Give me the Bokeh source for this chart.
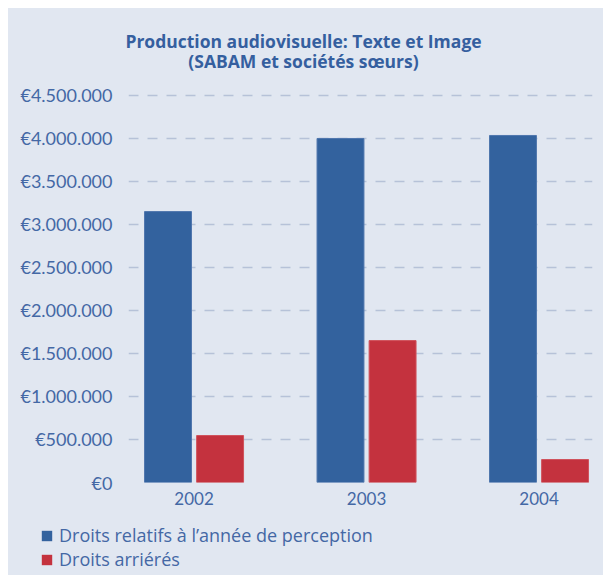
from bokeh.plotting import figure
from bokeh.models import (ColumnDataSource, FixedTicker, Range1d, Legend, LegendItem)
from bokeh.layouts import column
from bokeh.core.properties import value
from bokeh.embed import file_html
from bokeh.resources import INLINE

# ---- data ----
years = ["2002", "2003", "2004"]
droits_annee = [3150000, 4000000, 4035000]
droits_arrieres = [546000, 1650000, 267000]
y_ticks = [0, 500000, 1000000, 1500000, 2000000, 2500000, 3000000, 3500000, 4000000, 4500000]
y_tick_labels = ["€0", "€500.000", "€1.000.000", "€1.500.000", "€2.000.000",
                 "€2.500.000", "€3.000.000", "€3.500.000", "€4.000.000", "€4.500.000"]
title_lines = ["Production audiovisuelle: Texte et Image", "(SABAM et sociétés sœurs)"]
series_names = ["Droits relatifs à l\u2019année de perception", "Droits arriérés"]

BG = "#e1e7f1"
BLUE = "#33629e"
RED = "#c4323e"
TEXT = "#4468a5"
TITLE = "#355f9f"
FONT = "Lato"
W = 595

xs = list(range(len(years)))
off = 0.151
src = ColumnDataSource(dict(
    x_blue=[x - off for x in xs],
    x_red=[x + off for x in xs],
    blue=droits_annee,
    red=droits_arrieres,
))


def bare(fig):
    fig.background_fill_color = BG
    fig.border_fill_color = BG
    fig.outline_line_color = None
    fig.axis.visible = False
    fig.grid.visible = False
    return fig


# ---- title panel ----
tf = bare(figure(frame_width=W, frame_height=72, output_backend="svg", toolbar_location=None,
                 x_range=Range1d(0, W), y_range=Range1d(0, 72),
                 min_border=0, frame_align=False, styles={"background-color": BG}))
tf.text(x=[295, 295], y=[40, 20], text=title_lines, text_align="center",
        text_baseline="middle", text_font=value("Open Sans"), text_font_style="bold",
        text_font_size="17.5px", text_color=TITLE)

# ---- main chart ----
p = figure(width=W, height=440, output_backend="svg", toolbar_location=None,
           x_range=Range1d(-0.380, 2.310), y_range=Range1d(0, 4616000),
           min_border_left=120, min_border_right=11, min_border_top=5, min_border_bottom=38,
           styles={"background-color": BG})
p.background_fill_color = BG
p.border_fill_color = BG
p.outline_line_color = None

p.vbar(x="x_blue", top="blue", width=0.272, source=src, fill_color=BLUE,
       line_color="#4f76ad", line_width=1)
p.vbar(x="x_red", top="red", width=0.272, source=src, fill_color=RED,
       line_color="#d0525b", line_width=1)

p.xgrid.grid_line_color = None
p.ygrid.grid_line_color = "#b6c2d8"
p.ygrid.grid_line_width = 1.5
p.ygrid.grid_line_dash = "10 9"
p.ygrid.level = "underlay"

p.yaxis.ticker = FixedTicker(ticks=y_ticks)
p.yaxis.major_label_overrides = {t: l for t, l in zip(y_ticks, y_tick_labels)}
p.yaxis.axis_line_color = None
p.yaxis.major_tick_line_color = None
p.yaxis.major_tick_out = 0
p.yaxis.minor_tick_line_color = None
p.yaxis.major_label_standoff = 16
p.yaxis.major_label_text_font = FONT
p.yaxis.major_label_text_font_size = "18px"
p.yaxis.major_label_text_color = TEXT

p.xaxis.ticker = FixedTicker(ticks=xs)
p.xaxis.major_label_overrides = {i: y for i, y in zip(xs, years)}
p.xaxis.axis_line_color = None
p.xaxis.major_tick_line_color = None
p.xaxis.major_tick_out = 0
p.xaxis.minor_tick_line_color = None
p.xaxis.major_label_standoff = 9
p.xaxis.major_label_text_font = FONT
p.xaxis.major_label_text_font_size = "17px"
p.xaxis.major_label_text_color = TEXT

# ---- legend panel ----
lf = bare(figure(frame_width=W, frame_height=55, output_backend="svg", toolbar_location=None,
                 x_range=Range1d(0, 1), y_range=Range1d(0, 1), min_border=0,
                 frame_align=False, styles={"background-color": BG}))
lb = lf.vbar(x="x_blue", top="blue", width=0.1, source=src, fill_color=BLUE,
             line_color=None, visible=False)
lr = lf.vbar(x="x_red", top="red", width=0.1, source=src, fill_color=RED,
             line_color=None, visible=False)
legend = Legend(items=[LegendItem(label=series_names[0], renderers=[lb]),
                       LegendItem(label=series_names[1], renderers=[lr])],
                location=(32, 4), orientation="vertical",
                background_fill_alpha=0, border_line_color=None,
                inactive_fill_alpha=0,
                glyph_width=13, glyph_height=13, label_standoff=6, spacing=-5,
                label_height=20, padding=0, margin=0,
                label_text_font="Open Sans", label_text_font_size="18px",
                label_text_color=TEXT)
lf.add_layout(legend, "center")

layout = column(tf, p, lf, spacing=0, margin=(8, 0, 0, 8), styles={"background-color": BG})
open("out.html", "w").write(file_html(layout, INLINE))
